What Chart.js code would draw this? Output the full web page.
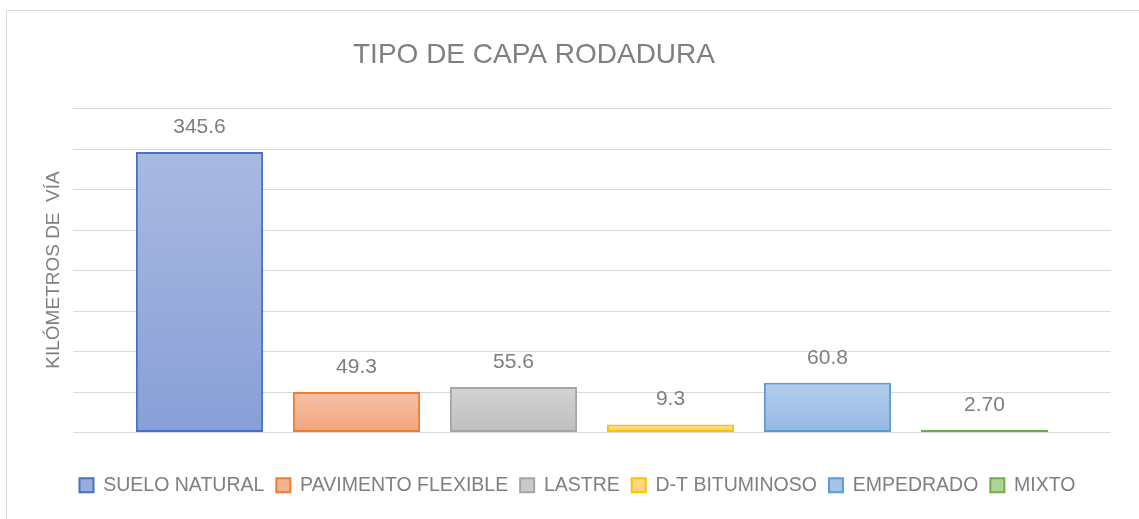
<!DOCTYPE html>
<html lang="es">
<head>
<meta charset="utf-8">
<title>Tipo de capa rodadura</title>
<script src="https://cdn.jsdelivr.net/npm/chart.js@4.4.1/dist/chart.umd.min.js"></script>
<style>
  html, body { margin: 0; padding: 0; background: #ffffff; overflow: hidden; }
  canvas { display: block; }
</style>
</head>
<body>
<canvas id="chart" width="1139" height="519"></canvas>
<script>
// Kilómetros de vía por tipo de capa de rodadura
const categories = ['SUELO NATURAL', 'PAVIMENTO FLEXIBLE', 'LASTRE', 'D-T BITUMINOSO', 'EMPEDRADO', 'MIXTO'];
const kilometers = [345.6, 49.3, 55.6, 9.3, 60.8, 2.7];
const labelDecimals = [1, 1, 1, 1, 1, 2];
const yTicks = [0, 50, 100, 150, 200, 250, 300, 350, 400];

const chartTitle = 'TIPO DE CAPA RODADURA';
const yAxisTitle = 'KILÓMETROS DE  VÍA';

// bar colours: gradient top, gradient bottom, outline
const fillTop = ['#aab9e1', '#f7c1a8', '#d3d3d3', '#ffdb88', '#b4cdeb', '#b7d7a3'];
const fillBottom = ['#889fd7', '#f4a47f', '#bfbfbf', '#ffd46c', '#96b9e3', '#a5cc8c'];
const outline = ['#4472c4', '#ed7d31', '#a5a5a5', '#ffc000', '#5b9bd5', '#70ad47'];
const legendFill = ['#99acdc', '#f5b192', '#c9c9c9', '#ffd77a', '#a5c3e7', '#b0d39a'];

const FONT = "'Liberation Sans', Arial, sans-serif";
const TEXT = '#7f7f7f';
const GRID = '#d9d9d9';

// outer frame of the chart
const framePlugin = {
  id: 'frame',
  beforeDraw(chart) {
    const c = chart.ctx;
    c.save();
    c.strokeStyle = GRID;
    c.lineWidth = 1;
    c.beginPath();
    c.moveTo(6.5, chart.height);
    c.lineTo(6.5, 10.5);
    c.lineTo(chart.width, 10.5);
    c.stroke();
    c.restore();
  }
};

// horizontal value gridlines, running a little wider than the bars
const gridPlugin = {
  id: 'wideGrid',
  beforeDatasetsDraw(chart) {
    const c = chart.ctx;
    const y = chart.scales.y;
    c.save();
    c.strokeStyle = GRID;
    c.lineWidth = 1.2;
    y.ticks.forEach(t => {
      const py = Math.round(y.getPixelForValue(t.value)) + 0.5;
      c.beginPath();
      c.moveTo(73, py);
      c.lineTo(1111, py);
      c.stroke();
    });
    c.restore();
  }
};

// chart heading
const headingPlugin = {
  id: 'heading',
  afterDraw(chart) {
    const c = chart.ctx;
    c.save();
    c.fillStyle = TEXT;
    c.font = '28px ' + FONT;
    c.textAlign = 'center';
    c.textBaseline = 'middle';
    c.fillText(chartTitle, 534, 55);
    c.restore();
  }
};

// value labels above each bar
const valueLabelPlugin = {
  id: 'valueLabels',
  afterDatasetsDraw(chart) {
    const c = chart.ctx;
    const meta = chart.getDatasetMeta(0);
    c.save();
    c.fillStyle = TEXT;
    c.font = '21px ' + FONT;
    c.textAlign = 'center';
    c.textBaseline = 'middle';
    meta.data.forEach((bar, i) => {
      c.fillText(kilometers[i].toFixed(labelDecimals[i]), bar.x, bar.y - 25);
    });
    c.restore();
  }
};

function barGradient(ctx) {
  const chart = ctx.chart;
  const i = ctx.dataIndex;
  if (!chart.chartArea || !chart.scales.y) return fillTop[i];
  const y = chart.scales.y;
  const top = y.getPixelForValue(ctx.raw);
  const bottom = y.getPixelForValue(0);
  const g = chart.ctx.createLinearGradient(0, top, 0, bottom);
  g.addColorStop(0, fillTop[i]);
  g.addColorStop(1, fillBottom[i]);
  return g;
}

new Chart(document.getElementById('chart'), {
  type: 'bar',
  data: {
    labels: categories,
    datasets: [{
      label: 'Kilómetros',
      data: kilometers,
      backgroundColor: barGradient,
      borderColor: outline,
      borderWidth: 2,
      borderSkipped: false,
      barPercentage: 0.81,
      categoryPercentage: 1.0
    }]
  },
  options: {
    responsive: false,
    animation: false,
    devicePixelRatio: 1,
    events: [],
    layout: { padding: { left: 62, right: 46, top: 108, bottom: 14 } },
    scales: {
      x: {
        display: true,
        ticks: { display: false },
        grid: { display: false, drawTicks: false },
        border: { display: false },
        afterFit(scale) { scale.height = 31.5; }
      },
      y: {
        min: 0,
        max: 400,
        afterBuildTicks(scale) { scale.ticks = yTicks.map(v => ({ value: v })); },
        ticks: { display: false },
        grid: { display: false, drawTicks: false },
        border: { display: false },
        title: {
          display: true,
          text: yAxisTitle,
          color: TEXT,
          font: { family: FONT, size: 19 },
          padding: { top: -19.4, bottom: 55.6 }
        }
      },
      // empty right-hand margin between the bars and the frame edge
      yRight: {
        type: 'linear',
        position: 'right',
        display: true,
        ticks: { display: false },
        grid: { display: false, drawTicks: false },
        border: { display: false },
        afterFit(scale) { scale.width = 30; }
      }
    },
    plugins: {
      title: { display: false },
      tooltip: { enabled: false },
      legend: {
        position: 'bottom',
        labels: {
          font: { family: FONT, size: 19.5 },
          color: TEXT,
          boxWidth: 14,
          boxHeight: 14,
          padding: 12,
          generateLabels() {
            return categories.map((name, i) => ({
              text: name,
              fillStyle: legendFill[i],
              strokeStyle: outline[i],
              lineWidth: 2,
              fontColor: TEXT,
              hidden: false,
              index: i,
              datasetIndex: 0
            }));
          }
        }
      }
    }
  },
  plugins: [framePlugin, gridPlugin, valueLabelPlugin, headingPlugin]
});
</script>
</body>
</html>
